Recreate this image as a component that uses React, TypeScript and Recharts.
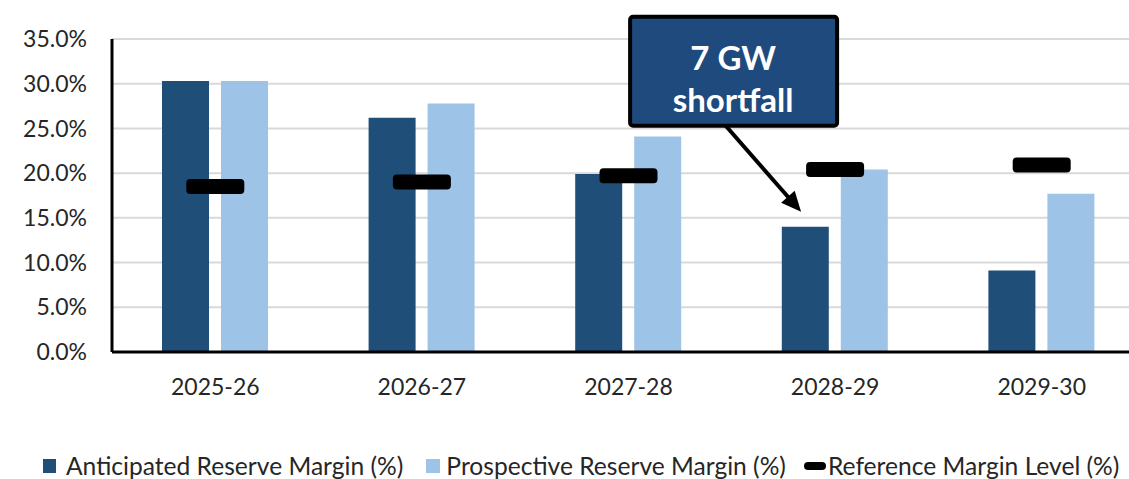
import React from "react";
import {
  ComposedChart,
  Bar,
  Line,
  XAxis,
  YAxis,
  CartesianGrid,
  Legend,
  ReferenceDot,
} from "recharts";

const categories = ["2025-26", "2026-27", "2027-28", "2028-29", "2029-30"];
const anticipated = [30.3, 26.2, 19.9, 14.0, 9.1];
const prospective = [30.3, 27.8, 24.1, 20.4, 17.7];
const referenceLevel = [18.5, 19.0, 19.7, 20.4, 20.9];
const yTicks = [0, 5, 10, 15, 20, 25, 30, 35];

const seriesNames = {
  anticipated: "Anticipated Reserve Margin (%)",
  prospective: "Prospective Reserve Margin (%)",
  reference: "Reference Margin Level (%)",
};

const data = categories.map((year, i) => ({
  year,
  anticipated: anticipated[i],
  prospective: prospective[i],
  reference: referenceLevel[i],
}));

const DARK = "#1f4e79";
const LIGHT = "#9dc3e6";
const BOX = "#1f4a7e";
const TEXT = "#262626";
const FONT = "Lato, 'Open Sans', sans-serif";

const RefMarker = (props: any) => {
  const { cx, cy } = props;
  if (cx == null || cy == null) return null;
  return <rect x={cx - 29} y={cy - 7.5} width={58} height={15} rx={4} fill="#000" />;
};

// callout pointing at the 2028-29 anticipated bar
const Callout = (props: any) => {
  const { cx, cy } = props;
  if (cx == null || cy == null) return null;
  const tipX = cx - 34;
  const tipY = cy - 15;
  const sx = tipX - 78;
  const sy = tipY - 89;
  const dx = tipX - sx;
  const dy = tipY - sy;
  const len = Math.sqrt(dx * dx + dy * dy);
  const ux = dx / len;
  const uy = dy / len;
  const headLen = 20;
  const headW = 9;
  const bx = tipX - ux * headLen;
  const by = tipY - uy * headLen;
  const left = tipX - 171;
  const top = tipY - 195;
  return (
    <g>
      <line x1={sx} y1={sy} x2={bx + ux * 2} y2={by + uy * 2} stroke="#000" strokeWidth={4} />
      <polygon
        points={`${tipX},${tipY} ${bx - uy * headW},${by + ux * headW} ${bx + uy * headW},${by - ux * headW}`}
        fill="#000"
      />
      <rect x={left} y={top} width={207} height={109} rx={3} fill={BOX} stroke="#000" strokeWidth={4} />
      <text
        x={left + 103}
        y={top + 40}
        textAnchor="middle"
        dominantBaseline="central"
        fill="#fff"
        fontFamily={FONT}
        fontWeight={700}
        fontSize={33}
      >
        7 GW
      </text>
      <text
        x={left + 103}
        y={top + 82}
        textAnchor="middle"
        dominantBaseline="central"
        fill="#fff"
        fontFamily={FONT}
        fontWeight={700}
        fontSize={33}
      >
        shortfall
      </text>
    </g>
  );
};

const LegendContent = () => (
  <div
    style={{
      display: "flex",
      alignItems: "center",
      height: 27,
      paddingLeft: 43,
      fontFamily: FONT,
      fontSize: 24.6,
      color: TEXT,
      whiteSpace: "nowrap",
    }}
  >
    <span style={{ width: 13, height: 14, background: DARK, marginRight: 10 }} />
    <span style={{ marginRight: 23 }}>{seriesNames.anticipated}</span>
    <span style={{ width: 14, height: 14, background: LIGHT, marginRight: 6 }} />
    <span style={{ marginRight: 18 }}>{seriesNames.prospective}</span>
    <span style={{ width: 22, height: 8, background: "#000", borderRadius: 4, marginRight: 2 }} />
    <span>{seriesNames.reference}</span>
  </div>
);

export default function App() {
  return (
    <div
      style={{
        position: "fixed",
        left: 0,
        top: 0,
        width: 1129,
        height: 479,
        overflow: "hidden",
        background: "#fff",
      }}
    >
      <ComposedChart
        width={1150}
        height={479}
        data={data}
        margin={{ top: 39, right: 5, left: 0, bottom: 0 }}
        barSize={47}
        barGap={12}
      >
        <CartesianGrid vertical={false} stroke="#d9d9d9" strokeWidth={2} />
        <XAxis
          dataKey="year"
          height={100}
          tickLine={false}
          tickSize={0}
          tickMargin={27}
          axisLine={{ stroke: "#000", strokeWidth: 3 }}
          tick={{ fill: TEXT, fontSize: 23, fontFamily: FONT }}
        />
        <YAxis
          width={112}
          domain={[0, 35]}
          ticks={yTicks}
          interval={0}
          tickLine={false}
          tickSize={0}
          tickMargin={25}
          tickFormatter={(v: number) => `${v.toFixed(1)}%`}
          axisLine={{ stroke: "#000", strokeWidth: 3 }}
          tick={{ fill: TEXT, fontSize: 23, fontFamily: FONT }}
        />
        <Legend
          verticalAlign="bottom"
          content={<LegendContent />}
          wrapperStyle={{ top: 452, left: 0, width: 1129, height: 27 }}
        />
        <Bar dataKey="anticipated" name={seriesNames.anticipated} fill={DARK} isAnimationActive={false} />
        <Bar dataKey="prospective" name={seriesNames.prospective} fill={LIGHT} isAnimationActive={false} />
        <Line
          dataKey="reference"
          name={seriesNames.reference}
          stroke="none"
          dot={<RefMarker />}
          activeDot={false}
          isAnimationActive={false}
        />
        <ReferenceDot x={categories[3]} y={anticipated[3]} r={0} shape={<Callout />} />
      </ComposedChart>
    </div>
  );
}
